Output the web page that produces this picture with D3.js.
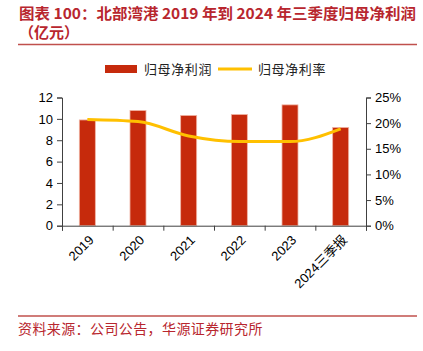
<!DOCTYPE html>
<head>
  <meta charset="utf-8">
  <title>北部湾港归母净利润</title>
  <style>
    body { margin: 0; background: #fff; }
    svg { display: block; }
    .cn { font-family: "Noto Sans CJK SC", sans-serif; }
    .axis text { font-family: "Liberation Sans", Arial, sans-serif; font-size: 13px; fill: #000; }
    .axis path, .axis line { stroke: #404040; }
  </style>
</head>
<body>
  <div id="chart"></div>
  <script src="https://d3js.org/d3.v7.min.js"></script>
  <script>
    // data
    const years = ['2019', '2020', '2021', '2022', '2023', '2024三季报'];
    const profit = [9.9, 10.78, 10.32, 10.41, 11.31, 9.2];     // 亿元
    const margin = [20.7, 20.3, 17.5, 16.4, 16.4, 18.9];       // %
    const leftTicks = [0, 2, 4, 6, 8, 10, 12];
    const rightTicks = [0, 5, 10, 15, 20, 25];

    const W = 423, H = 351;
    const red = '#c62a0c', yellow = '#ffc000', titleRed = '#b8262e';

    const svg = d3.select('#chart').append('svg')
      .attr('width', W).attr('height', H);

    // title
    svg.append('text').attr('class', 'cn')
      .attr('x', 19).attr('y', 19)
      .attr('font-size', 15).attr('font-weight', 'bold').attr('fill', titleRed)
      .attr('textLength', 397).attr('lengthAdjust', 'spacingAndGlyphs')
      .text('图表 100：北部湾港 2019 年到 2024 年三季度归母净利润');
    svg.append('text').attr('class', 'cn')
      .attr('x', 19).attr('y', 38)
      .attr('font-size', 15).attr('font-weight', 'bold').attr('fill', titleRed)
      .text('（亿元）');
    svg.append('line').attr('x1', 18).attr('x2', 417).attr('y1', 44.5).attr('y2', 44.5)
      .attr('stroke', '#c0504d').attr('stroke-width', 1.5);

    // legend
    svg.append('rect').attr('x', 105).attr('y', 65).attr('width', 32).attr('height', 8).attr('fill', red);
    svg.append('text').attr('class', 'cn').attr('x', 144).attr('y', 74)
      .attr('font-size', 13).attr('letter-spacing', 0.6).attr('fill', '#222').text('归母净利润');
    svg.append('line').attr('x1', 218).attr('x2', 252).attr('y1', 69).attr('y2', 69)
      .attr('stroke', yellow).attr('stroke-width', 3);
    svg.append('text').attr('class', 'cn').attr('x', 258).attr('y', 74)
      .attr('font-size', 13).attr('letter-spacing', 0.6).attr('fill', '#222').text('归母净利率');

    const plotL = 62, plotR = 366, plotT = 97.5, plotB = 225.7;

    const x = d3.scaleBand().domain(years).range([plotL, plotR]).paddingInner(0.684).paddingOuter(0.342);
    const xc = d3.scaleBand().domain(years).range([plotL, plotR]);
    const xIdx = d3.scaleLinear().domain([0, years.length]).range([plotL, plotR]);
    const y = d3.scaleLinear().domain([0, 12]).range([plotB, plotT]);
    const y2 = d3.scaleLinear().domain([0, 25]).range([plotB, plotT]);

    // bars
    svg.append('g').selectAll('rect').data(profit).join('rect')
      .attr('x', (d, i) => x(years[i]))
      .attr('width', x.bandwidth())
      .attr('y', d => y(d))
      .attr('height', d => plotB - y(d))
      .attr('fill', red)
      .attr('stroke', '#f0b4a4').attr('stroke-width', 0.8);

    // axes
    svg.append('g').attr('class', 'axis')
      .attr('transform', `translate(${plotL},0)`)
      .call(d3.axisLeft(y).tickValues(leftTicks).tickSize(5).tickPadding(4));
    svg.append('g').attr('class', 'axis')
      .attr('transform', `translate(${plotR},0)`)
      .call(d3.axisRight(y2).tickValues(rightTicks).tickSize(5).tickPadding(4).tickFormat(d => d + '%'));
    svg.append('g').attr('class', 'axis')
      .attr('transform', `translate(0,${plotB})`)
      .call(d3.axisBottom(xIdx).tickValues(d3.range(years.length + 1)).tickSize(5).tickFormat(''));

    // x labels, rotated
    svg.append('g').selectAll('text').data(years).join('text')
      .attr('transform', d => `translate(${xc(d) + xc.bandwidth() / 2 + 4},${plotB + 12}) rotate(-45)`)
      .attr('text-anchor', 'end')
      .attr('dy', '0.35em')
      .attr('font-family', '"Liberation Sans", "Noto Sans CJK SC", sans-serif')
      .attr('font-size', 13)
      .text(d => d);

    // margin line
    const line = d3.line()
      .x((d, i) => xc(years[i]) + xc.bandwidth() / 2)
      .y(d => y2(d))
      .curve(d3.curveMonotoneX);
    svg.append('path').datum(margin)
      .attr('d', line)
      .attr('fill', 'none')
      .attr('stroke', yellow)
      .attr('stroke-width', 3);

    // footer
    svg.append('line').attr('x1', 18).attr('x2', 417).attr('y1', 316).attr('y2', 316)
      .attr('stroke', '#c0504d').attr('stroke-width', 1.5);
    svg.append('text').attr('class', 'cn').attr('x', 18).attr('y', 334)
      .attr('font-size', 14).attr('letter-spacing', 0.4).attr('fill', titleRed)
      .text('资料来源：公司公告，华源证券研究所');
  </script>
</body>
</html>
